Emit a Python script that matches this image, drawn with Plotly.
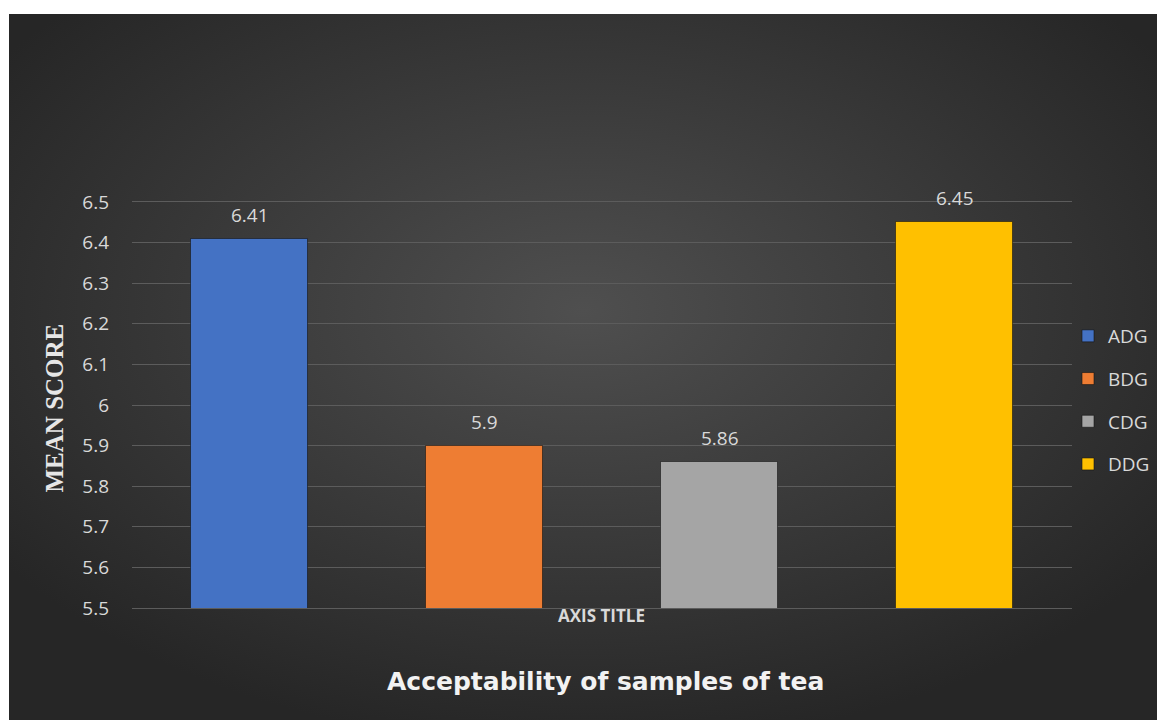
import plotly.graph_objects as go
import urllib.parse

# ---- data ----
samples = ["ADG", "BDG", "CDG", "DDG"]
mean_scores = [6.41, 5.90, 5.86, 6.45]
score_labels = ["6.41", "5.9", "5.86", "6.45"]
bar_colors = ["#4472C4", "#EE7D33", "#A5A5A5", "#FFC000"]
y_ticks = [5.5, 5.6, 5.7, 5.8, 5.9, 6.0, 6.1, 6.2, 6.3, 6.4, 6.5]
y_tick_text = ["5.5", "5.6", "5.7", "5.8", "5.9", "6", "6.1", "6.2", "6.3", "6.4", "6.5"]

W, H = 1157, 720
L, R, T, B = 132, 85, 202, 112
pw, ph = W - L - R, H - T - B
GRID = "#5C5C5C"
TXT = "#D9D9D9"

fig = go.Figure()
for name, val, col in zip(samples, mean_scores, bar_colors):
    fig.add_trace(go.Bar(
        x=[name], y=[val], name=name, width=0.5,
        marker=dict(color=col, line=dict(color="rgba(20,20,20,0.6)", width=1)),
        legendgroup=name, hoverinfo="x+y",
    ))

for name, val, lab in zip(samples, mean_scores, score_labels):
    fig.add_annotation(x=name, y=val, text=lab, showarrow=False,
                       yanchor="bottom", yshift=9,
                       font=dict(family="Open Sans", size=19, color=TXT))

# radial gradient background as SVG
svg = ('<svg xmlns="http://www.w3.org/2000/svg" width="1148" height="706" viewBox="0 0 1148 706" preserveAspectRatio="none">'
       '<defs><radialGradient id="g" cx="50%" cy="42%" r="62%">'
       '<stop offset="0" stop-color="#4f4f4f"/><stop offset="1" stop-color="#262626"/>'
       '</radialGradient></defs><rect width="1148" height="706" fill="url(#g)"/></svg>')
src = "data:image/svg+xml;charset=utf-8," + urllib.parse.quote(svg)

x0 = (9 - L) / pw
y0 = (T + ph - 14) / ph
fig.add_layout_image(dict(source=src, xref="paper", yref="paper",
                          x=x0, y=y0, sizex=(W - 9) / pw, sizey=(H - 14) / ph,
                          xanchor="left", yanchor="top", sizing="stretch", layer="below"))

# y title
fig.add_annotation(xref="paper", yref="paper", x=(38 - L) / pw, y=(T + ph - 408) / ph,
                   text="<b>MEAN SCORE</b>", textangle=-90, showarrow=False,
                   font=dict(family="Liberation Serif", size=25, color="#E6E6E6"))
# x axis title
fig.add_annotation(xref="paper", yref="paper", x=(601 - L) / pw, y=(T + ph - 629) / ph,
                   text="<b>AXIS TITLE</b>", showarrow=False,
                   font=dict(family="Open Sans", size=17, color=TXT))
# bottom chart title
fig.add_annotation(xref="paper", yref="paper", x=(605 - L) / pw, y=(T + ph - 698) / ph,
                   text="<b>Acceptability of samples of tea</b>", showarrow=False,
                   font=dict(family="DejaVu Sans", size=25, color="#F2F2F2"))

fig.update_layout(
    width=W, height=H,
    margin=dict(l=L, r=R, t=T, b=B, autoexpand=False),
    paper_bgcolor="white", plot_bgcolor="rgba(0,0,0,0)",
    barmode="overlay", bargap=0,
    showlegend=True,
    legend=dict(x=(1068 - L) / pw, xanchor="left", y=(T + ph - 400) / ph, yanchor="middle",
                font=dict(family="Open Sans", size=19, color=TXT),
                bgcolor="rgba(0,0,0,0)", tracegroupgap=15, itemwidth=30),
    xaxis=dict(type="category", categoryorder="array", categoryarray=samples,
               range=[-0.5, 3.5], showticklabels=False, showgrid=False,
               zeroline=False, showline=True, mirror=True, linecolor=GRID, linewidth=1),
    yaxis=dict(range=[5.5, 6.5], tickvals=y_ticks, ticktext=y_tick_text,
               gridcolor=GRID, gridwidth=1, zeroline=False, showline=False,
               ticklabelstandoff=22,
               tickfont=dict(family="Open Sans", size=19, color=TXT)),
)

fig.write_html("out.html")
